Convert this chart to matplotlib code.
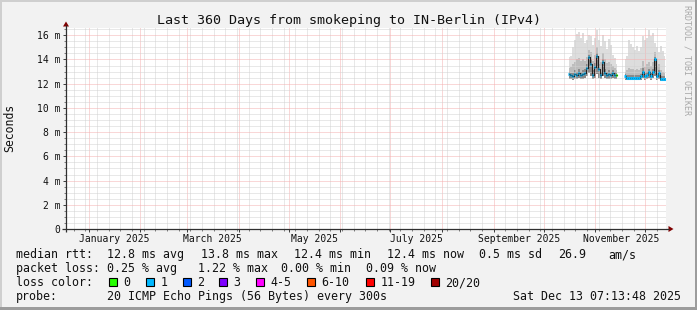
import matplotlib
matplotlib.use('Agg')
import matplotlib.pyplot as plt
import matplotlib.dates as mdates
import matplotlib.ticker as mticker
from matplotlib.patches import Rectangle, Polygon
import pandas as pd

MONO = 'DejaVu Sans Mono'
plt.rcParams['font.family'] = [MONO, 'DejaVu Sans']

# ---------------- data ----------------
title = 'Last 360 Days from smokeping to IN-Berlin (IPv4)'
x_start = '2024-12-18 07:13:48'
x_end = '2025-12-13 07:13:48'
y_max = 16.6
month_labels = ['January 2025', 'March 2025', 'May 2025', 'July 2025',
                'September 2025', 'November 2025']
month_label_dates = ['2025-01-16 07:00', '2025-03-16 07:00', '2025-05-16 07:00',
                     '2025-07-16 07:00', '2025-09-16 07:00', '2025-11-16 07:00']

# segment 1 (mid Oct -> mid Nov), one value per 28.8 h
seg1_start = '2025-10-15 20:00'
seg1_median = [12.8, 12.7, 12.6, 12.8, 12.7, 12.9, 12.7, 12.8, 12.9, 13.3, 14.2, 13.6, 12.7,
               13.4, 14.3, 13.2, 12.7, 13.8, 12.9, 12.7, 12.8, 12.7, 12.9, 12.7, 12.7]
seg1_min = [12.4, 12.4, 12.3, 12.4, 12.4, 12.5, 12.4, 12.4, 12.5, 12.6, 12.9, 12.6, 12.4,
            12.5, 12.8, 12.5, 12.4, 12.6, 12.5, 12.4, 12.4, 12.4, 12.5, 12.4, 12.4]
seg1_mid = [13.0, 12.9, 12.9, 13.1, 13.0, 13.2, 13.0, 13.1, 13.2, 13.6, 14.4, 14.0, 13.1,
            13.7, 14.5, 13.6, 13.0, 14.0, 13.2, 13.0, 13.1, 13.0, 13.1, 13.0, 12.9]
seg1_upper = [13.3, 13.4, 13.6, 13.8, 14.0, 14.1, 13.9, 14.0, 13.9, 14.2, 14.8, 14.6, 13.9,
              14.4, 15.0, 14.3, 13.8, 14.5, 14.0, 13.7, 13.8, 13.6, 13.5, 13.3, 13.1]
seg1_max = [14.2, 14.3, 15.0, 15.6, 16.1, 16.3, 15.8, 16.2, 15.4, 15.6, 16.0, 15.9, 15.2,
            15.8, 16.4, 15.6, 15.1, 16.0, 15.5, 14.9, 15.7, 15.2, 14.4, 14.1, 13.6]
seg1_loss = [1, 1, 1, 1, 1, 1, 1, 1, 1, 1, 1, 1, 1, 1, 1, 1, 1, 1, 1, 1, 1, 1, 1, 1, 0]

# segment 2 (mid Nov -> Dec 13)
seg2_start = '2025-11-18 17:00'
seg2_median = [12.6, 12.5, 12.5, 12.5, 12.5, 12.5, 12.5, 12.5, 12.6, 12.95, 12.6, 12.7,
               12.95, 12.6, 12.95, 14.0, 12.6, 12.9, 12.4, 12.4, 12.4]
seg2_min = [12.3, 12.3, 12.3, 12.3, 12.3, 12.3, 12.3, 12.3, 12.3, 12.5, 12.3, 12.4,
            12.5, 12.3, 12.5, 12.6, 12.3, 12.4, 12.2, 12.2, 12.2]
seg2_mid = [12.8, 12.7, 12.7, 12.7, 12.7, 12.7, 12.7, 12.7, 12.8, 13.3, 12.9, 13.0,
            13.2, 12.9, 13.2, 14.2, 12.9, 13.1, 12.6, 12.6, 12.6]
seg2_upper = [13.0, 13.1, 13.3, 13.2, 13.2, 13.1, 13.2, 13.1, 13.3, 13.9, 13.4, 13.6,
              13.8, 13.5, 13.8, 14.6, 13.5, 13.6, 13.1, 13.0, 12.9]
seg2_max = [14.0, 14.3, 15.6, 15.3, 15.0, 14.8, 15.1, 14.7, 15.0, 15.9, 15.6, 15.8,
            16.4, 15.9, 16.2, 15.4, 15.0, 14.6, 15.1, 14.7, 14.3]
seg2_loss = [1] * 21

loss_labels = ['0', '1', '2', '3', '4-5', '6-10', '11-19', '20/20']
loss_colors = ['#26FF00', '#00B8FF', '#0059FF', '#7E00FF', '#FF00FF', '#FF5500',
               '#FF0000', '#A00000']

legend_rows = [
    [('median rtt:', 16), ('12.8 ms avg', 107), ('13.8 ms max', 201), ('12.4 ms min', 294),
     ('12.4 ms now', 387), ('0.5 ms sd', 479), ('26.9', 558), ('am/s', 608)],
    [('packet loss:', 16), ('0.25 % avg', 107), ('1.22 % max', 198), ('0.00 % min', 281),
     ('0.09 % now', 366)],
    [('loss color:', 16)],
    [('probe:', 16), ('20 ICMP Echo Pings (56 Bytes) every 300s', 107),
     ('Sat Dec 13 07:13:48 2025', 513)],
]
loss_box_x = [109, 146, 183, 219, 256, 307, 366, 431]

# ---------------- figure ----------------
W, H = 697, 310
fig = plt.figure(figsize=(W / 100, H / 100), dpi=100)
fig.patch.set_facecolor('#F2F2F2')

L, R, T, B = 66, 666, 28, 229
ax = fig.add_axes([L / W, 1 - B / H, (R - L) / W, (B - T) / H])
ax.set_facecolor('white')

step = pd.Timedelta(minutes=1728)
segments = [
    (seg1_start, seg1_median, seg1_min, seg1_mid, seg1_upper, seg1_max, seg1_loss),
    (seg2_start, seg2_median, seg2_min, seg2_mid, seg2_upper, seg2_max, seg2_loss),
]
for start, med, mn, mid, up, mx, loss in segments:
    dates = pd.date_range(start, periods=len(med), freq=step)
    xd = mdates.date2num(dates)
    ax.fill_between(xd, mn, mx, step='mid', color='#DDDDDD', lw=0, zorder=1)
    ax.fill_between(xd, mn, up, step='mid', color='#BDBDBD', lw=0, zorder=1.1)
    ax.fill_between(xd, mn, mid, step='mid', color='#8A8A8A', lw=0, zorder=1.2)
    ax.step(xd, med, where='mid', color='#202020', lw=0.8, zorder=3)
    half = (xd[1] - xd[0]) / 2
    for xv, m, l in zip(xd, med, loss):
        ax.hlines(m, xv - half * 0.8, xv + half * 0.8, colors=loss_colors[l], lw=2.2, zorder=3.5)

ax.set_xlim(mdates.date2num(pd.Timestamp(x_start)), mdates.date2num(pd.Timestamp(x_end)))
ax.set_ylim(0, y_max)
ax.xaxis.set_major_locator(mdates.MonthLocator())
ax.xaxis.set_minor_locator(mdates.WeekdayLocator(byweekday=mdates.MO))
ax.xaxis.set_major_formatter(mticker.NullFormatter())
ax.xaxis.set_minor_formatter(mticker.NullFormatter())
ax.yaxis.set_major_locator(mticker.MultipleLocator(2))
ax.yaxis.set_minor_locator(mticker.MultipleLocator(0.5))
ax.yaxis.set_major_formatter(mticker.FuncFormatter(lambda v, p: '0' if v == 0 else f'{v:g} m'))
ax.grid(which='minor', color='#D2D2D2', lw=0.72, ls=(0, (1, 1)))
ax.grid(which='major', color='#F5B0B0', lw=0.72, ls=(0, (1, 1)))
ax.set_axisbelow(False)
for s in ax.spines.values():
    s.set_visible(False)
ax.tick_params(which='major', length=2.2, width=0.72, color='#404040', labelsize=7,
               labelcolor='#111111', pad=2.0)
ax.tick_params(which='minor', length=1.4, width=0.72, color='#808080')

for lab, d in zip(month_labels, month_label_dates):
    ax.text(mdates.date2num(pd.Timestamp(d)), -(242 - B) / (B - T), lab,
            transform=ax.get_xaxis_transform(), ha='center', va='baseline',
            fontsize=7, color='#111111')

# ---------------- overlay (frame, axes arrows, texts) ----------------
ov = fig.add_axes([0, 0, 1, 1], zorder=5)
ov.set_xlim(0, W)
ov.set_ylim(H, 0)
ov.axis('off')
ov.patch.set_alpha(0)

ov.add_patch(Rectangle((0, 0), W, 2, color='#CFCFCF', lw=0))
ov.add_patch(Rectangle((0, 0), 2, H, color='#CFCFCF', lw=0))
ov.add_patch(Rectangle((W - 2, 0), 2, H, color='#9C9C9C', lw=0))
ov.add_patch(Rectangle((0, H - 3), W, 3, color='#9C9C9C', lw=0))

axis_col = '#303030'
ov.plot([L, L], [B + 3, 25], color=axis_col, lw=0.9, solid_capstyle='butt')
ov.plot([L - 4, 669], [B, B], color=axis_col, lw=0.9, solid_capstyle='butt')
ov.add_patch(Polygon([[L, 21.5], [L - 3, 26.5], [L + 3, 26.5]], closed=True,
                     color='#7F0000', lw=0))
ov.add_patch(Polygon([[673.5, B], [668.5, B - 3], [668.5, B + 3]], closed=True,
                     color='#7F0000', lw=0))

ov.text(349, 24, title, ha='center', va='baseline', fontsize=9.6, color='#111111')
ov.text(10, 128, 'Seconds', rotation=90, ha='center', va='center', fontsize=8.3,
        color='#111111')
ov.text(687, 60, 'RRDTOOL / TOBI OETIKER', rotation=270, ha='center', va='center',
        fontsize=6, color='#A8A8A8')

row_base = [258, 272, 286, 300]
for row, yb in zip(legend_rows, row_base):
    for txt, x in row:
        ov.text(x, yb, txt, ha='left', va='baseline', fontsize=8.4, color='#111111')

for bx, col, lab in zip(loss_box_x, loss_colors, loss_labels):
    ov.add_patch(Rectangle((bx, 278), 8, 8, facecolor=col, edgecolor='black', lw=0.8))
    ov.text(bx + 14.5, row_base[2], lab, ha='left', va='baseline', fontsize=8.4,
            color='#111111')

fig.savefig('out.png', dpi=100, facecolor=fig.get_facecolor())
